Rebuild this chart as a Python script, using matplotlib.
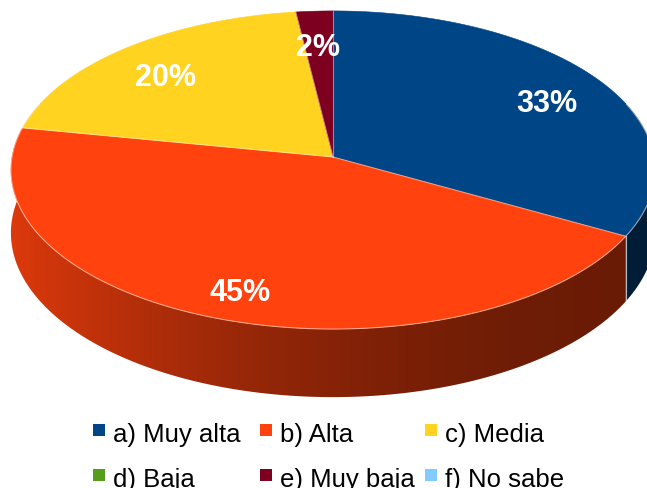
import numpy as np
import matplotlib
matplotlib.use('Agg')
import matplotlib.pyplot as plt
from matplotlib.patches import Polygon, Rectangle
from matplotlib.colors import to_rgb

# ---------------- data ----------------
categories = ['a) Muy alta', 'b) Alta', 'c) Media', 'd) Baja', 'e) Muy baja', 'f) No sabe']
values = [33, 45, 20, 0, 2, 0]
colors = ['#004586', '#ff420e', '#ffd320', '#579d1c', '#7e0021', '#83caff']

# ---------------- layout ----------------
W, H = 647, 489
fig = plt.figure(figsize=(W / 100, H / 100), dpi=100)
ax = fig.add_axes([0, 0, 1, 1])
ax.set_xlim(0, W)
ax.set_ylim(H, 0)
ax.axis('off')

XC, YC, RX, RY, PERSP, DEPTH = 333, 158, 321, 158, 0.0817, 62.5
LABEL_R, LABEL_DY = 0.8, 8


def proj(phi, r=1.0):
    x = r * np.cos(phi)
    t = -r * np.sin(phi)
    w = 1 - PERSP * t
    return XC + RX * x / w, YC + RY * t / w, DEPTH / w


def shade(c):
    return 0.527 - 0.223 * c + 0.1135 * c * c


total = float(sum(values))
fracs = np.array(values) / total
cum = np.concatenate([[0], np.cumsum(fracs)])
a0s = np.radians(90 - 360 * cum[:-1])
a1s = np.radians(90 - 360 * cum[1:])

# ---------------- side walls (gradient, clipped) ----------------
front_lo, front_hi = np.radians(-200.5), np.radians(20.5)
xpix = np.linspace(0, W, W * 2)
cx = np.clip((xpix - XC) / RX, -1, 1)
walls = []
for i, v in enumerate(values):
    if v <= 0:
        continue
    hi = min(a0s[i], front_hi)
    lo = max(a1s[i], front_lo)
    if hi <= lo:
        continue
    phis = np.linspace(hi, lo, 300)
    xs, ys, ds = proj(phis)
    pts = list(zip(xs, ys)) + list(zip(xs[::-1], (ys + ds)[::-1]))
    depth = np.mean(-np.sin(phis))
    walls.append((depth, i, pts))
walls.sort(key=lambda w: w[0])
for depth, i, pts in walls:
    base = np.array(to_rgb(colors[i]))
    img = np.clip(base[None, None, :] * shade(cx)[None, :, None], 0, 1)
    poly = Polygon(pts, closed=True, facecolor='none', edgecolor='none', transform=ax.transData)
    ax.add_patch(poly)
    im = ax.imshow(img, extent=(0, W, H, 0), aspect='auto', interpolation='bilinear', zorder=1)
    im.set_clip_path(poly)
    # soft outline to antialias the edge
    mid = np.clip(base * shade(np.clip((np.mean([p[0] for p in pts]) - XC) / RX, -1, 1)), 0, 1)
ax.set_xlim(0, W)
ax.set_ylim(H, 0)

# side boundary lines
for i, v in enumerate(values):
    if v <= 0:
        continue
    for a in (a0s[i], a1s[i]):
        if -np.sin(a) > 0.05:
            x, y, d = proj(a)
            ax.plot([x, x], [y, y + d], color=(1, 1, 1, 0.45), lw=0.8, zorder=2)

# ---------------- top faces ----------------
for i, v in enumerate(values):
    if v <= 0:
        continue
    n = max(4, int(abs(a1s[i] - a0s[i]) / np.radians(0.5)))
    phis = np.linspace(a0s[i], a1s[i], n + 1)
    xs, ys, _ = proj(phis)
    pts = [(XC, YC)] + list(zip(xs, ys))
    ax.add_patch(Polygon(pts, closed=True, facecolor=colors[i], edgecolor=colors[i], lw=0.4, zorder=3))

# boundary lines on top face
for i, v in enumerate(values):
    if v <= 0:
        continue
    x, y, _ = proj(a0s[i])
    ax.plot([XC, x], [YC, y], color=(1, 1, 1, 0.45), lw=0.8, zorder=4)

# rim line
ph = np.linspace(np.radians(-200), np.radians(20), 400)
rx, ry, _ = proj(ph)
ax.plot(rx, ry, color=(1, 0.93, 0.88, 0.55), lw=0.8, zorder=4)

# ---------------- percentage labels ----------------
for i, v in enumerate(values):
    if v <= 0:
        continue
    am = 0.5 * (a0s[i] + a1s[i])
    x, y, _ = proj(am, LABEL_R)
    ax.text(x, y + LABEL_DY, f'{v}%', color='white', fontsize=22, fontweight='bold',
            family=['Liberation Sans', 'DejaVu Sans'], ha='center', va='center', zorder=6)

# ---------------- legend ----------------
col_x = [99, 266, 431]
row_y = [431, 476]
msize = 12
for i, (cat, col) in enumerate(zip(categories, colors)):
    r, c = divmod(i, 3)
    mx, my = col_x[c], row_y[r]
    ax.add_patch(Rectangle((mx - msize / 2, my - msize / 2), msize, msize,
                           facecolor=col, edgecolor='none', zorder=6))
    ax.text(mx + 14, my + 11, cat, fontsize=18.5, color='black',
            family=['Liberation Sans', 'DejaVu Sans'], ha='left', va='baseline', zorder=6)

fig.savefig('out.png', dpi=100)
